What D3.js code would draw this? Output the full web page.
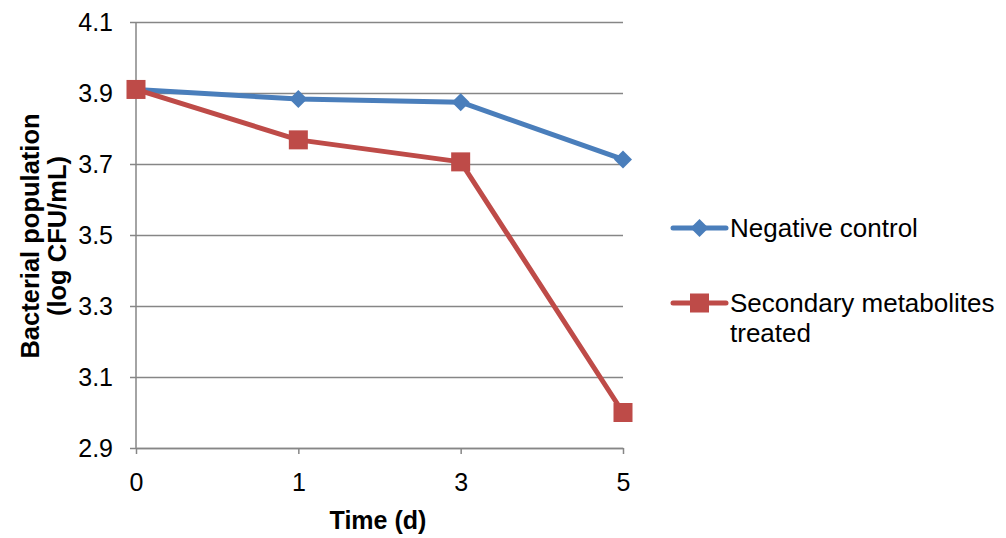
<!DOCTYPE html>
<html>
<head>
<meta charset="utf-8">
<script src="https://cdn.jsdelivr.net/npm/d3@7"></script>
<style>
  html, body { margin: 0; padding: 0; background: #fff; }
  svg { display: block; font-family: "Liberation Sans", Arial, sans-serif; }
</style>
</head>
<body>
<svg id="chart" width="1006" height="538"></svg>
<script>
// Sampling days and bacterial counts (log CFU/mL)
const days = ["0", "1", "3", "5"];
const negativeControl = [3.91, 3.883, 3.874, 3.713];
const metabolitesTreated = [3.91, 3.768, 3.706, 3.0];
const yTicks = [2.9, 3.1, 3.3, 3.5, 3.7, 3.9, 4.1];

const series = [
  { name: ["Negative control"], values: negativeControl, color: "#4A7EBB", shape: "diamond" },
  { name: ["Secondary metabolites", "treated"], values: metabolitesTreated, color: "#BE4B48", shape: "square" }
];

const svg = d3.select("#chart");
const plot = { left: 136, right: 623, top: 22, bottom: 448 };
const fontSize = "25px";
const legendFontSize = "26px";

const x = d3.scalePoint().domain(days).range([plot.left, plot.right]).padding(0);
const y = d3.scaleLinear().domain([2.9, 4.1]).range([plot.bottom, plot.top]);

const gridColor = "#868686";

// Horizontal gridlines (with the tick stub to the left of the axis)
const yAxis = d3.axisLeft(y)
  .tickValues(yTicks)
  .tickFormat(d3.format(".1f"))
  .tickSize(-(plot.right - plot.left))
  .tickPadding(23);
const gy = svg.append("g").attr("transform", `translate(${plot.left},0)`).call(yAxis);
gy.select(".domain").remove();
gy.selectAll(".tick line")
  .attr("x1", -6)
  .attr("stroke", gridColor)
  .attr("stroke-width", 1.5);
gy.selectAll(".tick text")
  .attr("fill", "#000")
  .style("font-size", fontSize);

// Vertical axis line
svg.append("line")
  .attr("x1", plot.left).attr("x2", plot.left)
  .attr("y1", plot.top).attr("y2", plot.bottom)
  .attr("stroke", gridColor).attr("stroke-width", 1.5);

// Category axis along the bottom
const xAxis = d3.axisBottom(x).tickSize(6).tickSizeOuter(0).tickPadding(19);
const gx = svg.append("g").attr("transform", `translate(0,${plot.bottom})`).call(xAxis);
gx.select(".domain").attr("stroke", gridColor).attr("stroke-width", 1.5);
gx.selectAll(".tick line").attr("stroke", gridColor).attr("stroke-width", 1.5);
gx.selectAll(".tick text").attr("fill", "#000").style("font-size", fontSize);

// Axis titles
svg.append("text")
  .attr("x", 378)
  .attr("y", 529)
  .attr("text-anchor", "middle")
  .style("font-size", fontSize)
  .style("font-weight", "bold")
  .text("Time (d)");

const yTitle = svg.append("text")
  .attr("transform", "translate(0,236) rotate(-90)")
  .attr("text-anchor", "middle")
  .style("font-size", "25.5px")
  .style("font-weight", "bold");
yTitle.append("tspan").attr("x", 0).attr("y", 39).text("Bacterial population");
yTitle.append("tspan").attr("x", 0).attr("y", 66).text("(log CFU/mL)");

// Marker drawing helper
function drawMarker(g, shape, color, cx, cy) {
  if (shape === "diamond") {
    const r = 9;
    g.append("path")
      .attr("d", `M${cx},${cy - r}L${cx + r},${cy}L${cx},${cy + r}L${cx - r},${cy}Z`)
      .attr("fill", color);
  } else {
    const s = 19;
    g.append("rect")
      .attr("x", cx - s / 2).attr("y", cy - s / 2)
      .attr("width", s).attr("height", s)
      .attr("fill", color);
  }
}

// Series lines and markers
const line = d3.line()
  .x((d, i) => x(days[i]))
  .y(d => y(d));

series.forEach(s => {
  const g = svg.append("g");
  g.append("path")
    .datum(s.values)
    .attr("d", line)
    .attr("fill", "none")
    .attr("stroke", s.color)
    .attr("stroke-width", 5)
    .attr("stroke-linejoin", "round")
    .attr("stroke-linecap", "round");
  s.values.forEach((v, i) => drawMarker(g, s.shape, s.color, x(days[i]), y(v)));
});

// Legend
const legendRows = [228, 303];
series.forEach((s, i) => {
  const g = svg.append("g");
  const ly = legendRows[i];
  g.append("line")
    .attr("x1", 673).attr("x2", 726)
    .attr("y1", ly).attr("y2", ly)
    .attr("stroke", s.color).attr("stroke-width", 5)
    .attr("stroke-linecap", "round");
  drawMarker(g, s.shape, s.color, 699.5, ly);
  const t = g.append("text")
    .attr("x", 730)
    .attr("y", ly + 9)
    .style("font-size", legendFontSize)
    .attr("fill", "#000");
  s.name.forEach((part, k) => {
    t.append("tspan").attr("x", 730).attr("dy", k === 0 ? 0 : 30).text(part);
  });
});
</script>
</body>
</html>
